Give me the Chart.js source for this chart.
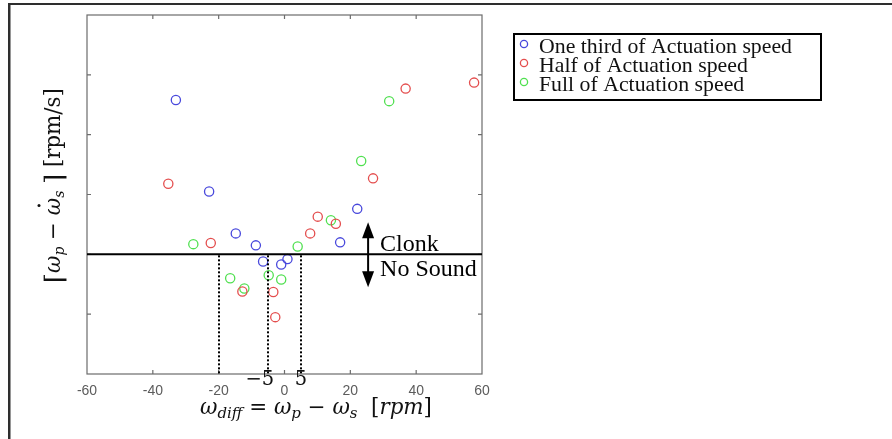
<!DOCTYPE html>
<html><head><meta charset="utf-8">
<script src="https://cdn.jsdelivr.net/npm/chart.js@4/dist/chart.umd.min.js"></script>
<style>html,body{margin:0;padding:0;background:#fff;}canvas{display:block}</style>
</head><body>
<canvas id="c" width="892" height="439"></canvas>
<script>
// ---- data ----
const seriesNames = ['One third of Actuation speed', 'Half of Actuation speed', 'Full of Actuation speed'];
const oneThirdX = [-33.0, -22.9, -14.8, -8.7, -6.5, -1.0, 0.9, 22.1, 16.9];
const oneThirdY = [2.58, 1.05, 0.35, 0.15, -0.12, -0.17, -0.08, 0.76, 0.20];
const halfX = [-35.3, -22.4, -12.8, -3.4, -2.8, 7.8, 10.1, 15.6, 26.9, 36.8, 57.6];
const halfY = [1.18, 0.19, -0.62, -0.63, -1.05, 0.35, 0.63, 0.51, 1.27, 2.77, 2.87];
const fullX = [-27.7, -16.5, -12.2, -4.8, -1.0, 4.0, 14.1, 23.3, 31.8];
const fullY = [0.17, -0.40, -0.57, -0.35, -0.42, 0.13, 0.57, 1.56, 2.56];
const xTicks = [-60, -40, -20, 0, 20, 40, 60];
const yTicks = [-2, -1, 0, 1, 2, 3, 4];
const thresholdY = 0;
const boundaryX = [-20, -5, 5];
const boundaryLabelX = [-5, 5];
const boundaryLabelText = ['−5', '5'];
const arrowX = 25.4;
const regionLabels = ['Clonk', 'No Sound'];

const colors = ['#4848dc', '#e44e4e', '#50e050'];
const SERIF = '"Liberation Serif", "DejaVu Serif", serif';
const MATH = '"DejaVu Serif", serif';

function pts(xs, ys) { return xs.map((v, i) => ({ x: v, y: ys[i] })); }

// runs: {t, s(size), it(italic), fam, dy}
function fontOf(r, k) { return (r.it ? 'italic ' : '') + (r.s * k).toFixed(2) + 'px ' + (r.fam || MATH); }
function runsWidth(ctx, runs, k) {
  let w = 0;
  for (const r of runs) { ctx.font = fontOf(r, k); w += ctx.measureText(r.t).width; }
  return w;
}
function drawRuns(ctx, runs, x0, y0, k) {
  let x = x0;
  const pos = [];
  for (const r of runs) {
    ctx.font = fontOf(r, k);
    const w = ctx.measureText(r.t).width;
    ctx.fillText(r.t, x, y0 + (r.dy || 0) * k);
    pos.push({ x, w });
    x += w;
  }
  return pos;
}

const decor = {
  id: 'decor',
  beforeDraw(chart) {
    const ctx = chart.ctx;
    ctx.save();
    ctx.fillStyle = '#fff';
    ctx.fillRect(0, 0, chart.width, chart.height);
    ctx.fillStyle = '#2e2e2e';
    ctx.fillRect(8, 3, 2.5, chart.height - 3);
    ctx.fillRect(8, 3, chart.width - 8, 2);
    ctx.restore();
  },
  afterDraw(chart) {
    const { ctx, chartArea: a, scales: { x, y } } = chart;
    ctx.save();
    // frame
    ctx.strokeStyle = '#6c6c6c';
    ctx.lineWidth = 1.2;
    ctx.strokeRect(a.left, a.top, a.right - a.left, a.bottom - a.top);
    // inward ticks
    ctx.beginPath();
    xTicks.forEach(v => {
      if (v === x.min || v === x.max) return;
      const px = x.getPixelForValue(v);
      ctx.moveTo(px, a.bottom); ctx.lineTo(px, a.bottom - 4);
      ctx.moveTo(px, a.top); ctx.lineTo(px, a.top + 4);
    });
    yTicks.forEach(v => {
      if (v === y.min || v === y.max) return;
      const py = y.getPixelForValue(v);
      ctx.moveTo(a.left, py); ctx.lineTo(a.left + 4, py);
      ctx.moveTo(a.right, py); ctx.lineTo(a.right - 4, py);
    });
    ctx.stroke();

    // threshold line
    const ty = y.getPixelForValue(thresholdY);
    ctx.strokeStyle = '#000';
    ctx.lineWidth = 2;
    ctx.beginPath(); ctx.moveTo(a.left, ty); ctx.lineTo(a.right, ty); ctx.stroke();

    // dotted boundaries
    ctx.setLineDash([2, 2]);
    ctx.lineWidth = 2;
    boundaryX.forEach(v => {
      const px = Math.round(x.getPixelForValue(v));
      ctx.beginPath(); ctx.moveTo(px, ty + 1); ctx.lineTo(px, a.bottom); ctx.stroke();
    });
    ctx.setLineDash([]);

    // boundary labels
    ctx.fillStyle = '#111';
    ctx.textBaseline = 'alphabetic';
    ctx.textAlign = 'left';
    boundaryLabelX.forEach((v, i) => {
      const px = x.getPixelForValue(v);
      ctx.font = '19.5px "DejaVu Serif", serif';
      const t = boundaryLabelText[i];
      const w5 = ctx.measureText('5').width;
      const wAll = ctx.measureText(t).width;
      ctx.fillText(t, px + w5 / 2 - wAll, a.bottom + 11);
    });

    // double arrow
    const ax = x.getPixelForValue(arrowX);
    ctx.strokeStyle = '#000'; ctx.fillStyle = '#000';
    ctx.lineWidth = 2;
    ctx.beginPath(); ctx.moveTo(ax, ty - 22); ctx.lineTo(ax, ty + 20); ctx.stroke();
    ctx.beginPath(); ctx.moveTo(ax, ty - 32); ctx.lineTo(ax - 6, ty - 16); ctx.lineTo(ax + 6, ty - 16); ctx.closePath(); ctx.fill();
    ctx.beginPath(); ctx.moveTo(ax, ty + 33); ctx.lineTo(ax - 6, ty + 17); ctx.lineTo(ax + 6, ty + 17); ctx.closePath(); ctx.fill();
    ctx.font = '24px ' + SERIF;
    ctx.fillText(regionLabels[0], ax + 12, ty - 3);
    ctx.fillText(regionLabels[1], ax + 12, ty + 22);

    // legend
    const lx = a.right + 32, lt = 34;
    ctx.lineWidth = 2;
    ctx.strokeStyle = '#000';
    ctx.strokeRect(lx, lt, 307, 66);
    ctx.font = '21.8px ' + SERIF;
    chart.data.datasets.forEach((ds, i) => {
      const cy = lt + 10 + 19 * i;
      ctx.strokeStyle = ds.borderColor;
      ctx.lineWidth = 1.3;
      ctx.beginPath(); ctx.arc(lx + 10, cy, 3.6, 0, Math.PI * 2); ctx.stroke();
      ctx.fillStyle = '#111';
      ctx.fillText(ds.label, lx + 25, cy + 9);
    });

    // x title
    ctx.fillStyle = '#111';
    const xr = [
      { t: 'ω', s: 20, it: 1 }, { t: 'diff', s: 14, it: 1, dy: 4 }, { t: ' = ', s: 20 },
      { t: 'ω', s: 20, it: 1 }, { t: 'p', s: 14, it: 1, dy: 4 }, { t: ' − ', s: 20 },
      { t: 'ω', s: 20, it: 1 }, { t: 's', s: 14, it: 1, dy: 4 }, { t: '  [', s: 20 },
      { t: 'rpm', s: 20, it: 1 }, { t: ']', s: 20 }
    ];
    const kx = 232 / runsWidth(ctx, xr, 1);
    drawRuns(ctx, xr, 200, 414, kx);

    // y title (rotated)
    ctx.save();
    ctx.translate(60, 283);
    ctx.rotate(-Math.PI / 2);
    const yr = [
      { t: '⌈', s: 24, dy: 3 }, { t: 'ω', s: 20, it: 1 }, { t: 'p', s: 13, it: 1, dy: 4 }, { t: ' − ', s: 20 },
      { t: 'ω', s: 20, it: 1 }, { t: 's', s: 13, it: 1, dy: 4 }, { t: ' ', s: 20 }, { t: '⌉', s: 24, dy: 3 },
      { t: ' [rpm/s]', s: 20 }
    ];
    const ky = 195 / runsWidth(ctx, yr, 1);
    const pos = drawRuns(ctx, yr, 0, 0, ky);
    const om = pos[4];
    ctx.beginPath(); ctx.arc(om.x + om.w / 2 + 1, -21, 1.5, 0, Math.PI * 2); ctx.fill();
    ctx.restore();

    ctx.restore();
  }
};

const mk = (label, xs, ys, c) => ({
  label, data: pts(xs, ys), borderColor: c, backgroundColor: 'rgba(0,0,0,0)',
  pointRadius: 4.6, pointBorderWidth: 1.3, pointHoverRadius: 4.6, pointStyle: 'circle'
});

new Chart(document.getElementById('c'), {
  type: 'scatter',
  data: {
    datasets: [
      mk(seriesNames[0], oneThirdX, oneThirdY, colors[0]),
      mk(seriesNames[1], halfX, halfY, colors[1]),
      mk(seriesNames[2], fullX, fullY, colors[2])
    ]
  },
  options: {
    responsive: false,
    devicePixelRatio: 1,
    animation: false,
    events: [],
    layout: { padding: { top: 15, right: 410, left: 0, bottom: 0 } },
    plugins: { legend: { display: false }, tooltip: { enabled: false } },
    scales: {
      x: {
        type: 'linear', min: -60, max: 60,
        afterBuildTicks: s => { s.ticks = xTicks.map(v => ({ value: v })); },
        afterFit: s => { s.height = 65; },
        grid: { display: false, drawTicks: false },
        border: { display: false },
        ticks: { color: '#5c5c5c', font: { family: '"Liberation Sans", Arial, sans-serif', size: 14 }, padding: 9, maxRotation: 0 }
      },
      y: {
        type: 'linear', min: -2, max: 4,
        afterBuildTicks: s => { s.ticks = yTicks.map(v => ({ value: v })); },
        afterFit: s => { s.width = 87; },
        grid: { display: false, drawTicks: false },
        border: { display: false },
        ticks: { display: false }
      }
    }
  },
  plugins: [decor]
});
</script>
</body></html>
